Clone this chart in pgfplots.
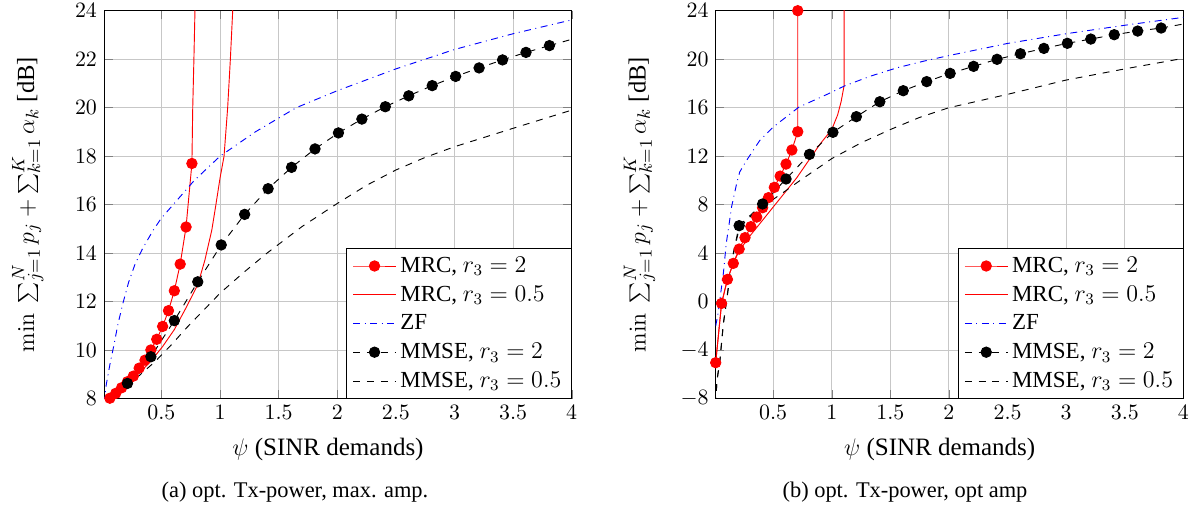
\documentclass[border=0pt]{standalone}
\usepackage[no-math]{fontspec}
\setmainfont{Liberation Serif}
\usepackage{pgfplots}
\pgfplotsset{compat=1.18}

\pgfplotsset{
  sinrax/.style={
    scale only axis, width=233.85pt, height=194pt,
    anchor=south west,
    xmin=0.01, xmax=4,
    xtick={0.5,1,1.5,2,2.5,3,3.5,4},
    grid=major,
    major grid style={black!22, line width=0.5pt},
    every axis plot/.append style={line width=0.46pt},
    tick label style={font=\fontsize{11}{13}\selectfont},
    label style={font=\fontsize{11.5}{13}\selectfont},
    xlabel={$\psi$ (SINR demands)},
    ylabel={$\min\ \sum_{j=1}^{N} p_j + \sum_{k=1}^{K} \alpha_k$ [dB]},
    every axis x label/.style={at={(axis description cs:0.479,-0.132)}, anchor=center,
      font=\fontsize{12.5}{14}\selectfont},
    every axis y label/.style={at={(axis description cs:-0.163,0.5)}, rotate=90, anchor=center,
      font=\fontsize{12.3}{14}\selectfont},
    legend style={at={(1,0)}, anchor=south east, draw=black,
      font=\fontsize{11.5}{13}\selectfont, row sep=1.2pt},
    legend cell align=left,
    legend image code/.code={
      \draw[mark repeat=2,mark phase=2] plot coordinates {(0cm,0cm) (0.375cm,0cm) (0.75cm,0cm)};},
  },
  mrctwo/.style={red, mark=*, mark size=2.6pt},
  mrchalf/.style={red, no markers},
  zf/.style={blue, dash pattern=on 3.45pt off 2.3pt on 0.46pt off 2.3pt, no markers},
  mmsetwo/.style={black, dash pattern=on 3.45pt off 3.45pt, mark=*, mark size=2.6pt, mark options={solid}},
  mmsehalf/.style={black, dash pattern=on 3.45pt off 3.45pt, no markers},
  ext/.style={forget plot, no markers},
}

\begin{document}
\begin{tikzpicture}
\path[use as bounding box] (0pt,0pt) rectangle (600pt,256.5pt);

% (a) max. amp.
\begin{axis}[sinrax, at={(52pt,57.15pt)}, ymin=8, ymax=24, ytick={8,10,...,24}]
\addplot[mrctwo] coordinates {
 (0.06,8.02) (0.11,8.22) (0.16,8.45) (0.21,8.70) (0.26,8.93) (0.31,9.26)
 (0.36,9.59) (0.41,10.01) (0.46,10.45) (0.51,10.98) (0.56,11.63) (0.61,12.45)
 (0.66,13.55) (0.71,15.08) (0.76,17.70)};
\addlegendentry{MRC, $r_3 = 2$}
\addplot[red, ext] coordinates {(0.76,17.70) (0.767,20.0) (0.777,22.0) (0.786,24.0) (0.79,25.5)};
\addplot[mrchalf] coordinates {
 (0.01,7.6) (0.06,8.0) (0.11,8.2) (0.21,8.6) (0.31,9.05) (0.41,9.55) (0.51,10.15)
 (0.61,10.85) (0.71,11.75) (0.81,12.7) (0.87,13.7) (0.93,14.96) (0.963,15.95)
 (1.0,17.1) (1.034,18.0) (1.065,20.0) (1.088,22.0) (1.108,24.0) (1.115,25.0)};
\addlegendentry{MRC, $r_3 = 0.5$}
\addplot[zf] coordinates {
 (0.01,7.8) (0.03,8.6) (0.06,9.4) (0.09,10.1) (0.13,11.1) (0.175,12.0) (0.22,12.8)
 (0.275,13.55) (0.34,14.2) (0.43,14.95) (0.5,15.45) (0.6,16.0) (0.78,17.0) (1.0,18.0)
 (1.3,19.0) (1.65,20.0) (2.0,20.7) (2.5,21.6) (3.0,22.4) (3.5,23.05) (4.0,23.62)};
\addlegendentry{ZF}
\addplot[mmsetwo] coordinates {
 (0.21,8.63) (0.41,9.73) (0.61,11.22) (0.81,12.82) (1.01,14.34) (1.21,15.60)
 (1.41,16.66) (1.61,17.54) (1.81,18.30) (2.01,18.96) (2.21,19.53) (2.41,20.04)
 (2.61,20.49) (2.81,20.91) (3.01,21.29) (3.21,21.64) (3.41,21.97) (3.61,22.28) (3.81,22.56)};
\addlegendentry{MMSE, $r_3 = 2$}
\addplot[mmsehalf, ext] coordinates {(0.01,7.8) (0.11,8.2) (0.21,8.63)};
\addplot[mmsehalf, ext] coordinates {(3.81,22.56) (4.0,22.82)};
\addplot[mmsehalf] coordinates {
 (0.01,7.8) (0.11,8.15) (0.21,8.55) (0.31,8.95) (0.45,9.55) (0.6,10.3) (0.7,10.85)
 (0.85,11.6) (1.0,12.35) (1.2,13.2) (1.4,14.0) (1.7,15.1) (2.0,16.05) (2.25,16.8)
 (2.5,17.43) (2.75,17.95) (3.0,18.39) (3.5,19.15) (4.0,19.9)};
\addlegendentry{MMSE, $r_3 = 0.5$}
\end{axis}

% (b) opt. amp
\begin{axis}[sinrax, at={(357.85pt,57.15pt)}, ymin=-8, ymax=24, ytick={-8,-4,...,24}]
\addplot[mrctwo] coordinates {
 (0.01,-5.03) (0.06,-0.14) (0.11,1.84) (0.16,3.16) (0.21,4.34) (0.26,5.28)
 (0.31,6.19) (0.36,6.98) (0.41,7.75) (0.46,8.58) (0.51,9.43) (0.56,10.36)
 (0.61,11.35) (0.66,12.51) (0.71,14.02) (0.71,24.0)};
\addlegendentry{MRC, $r_3 = 2$}
\addplot[mrchalf] coordinates {
 (0.01,-5.03) (0.06,-0.14) (0.11,1.84) (0.16,3.16) (0.21,4.2) (0.3,5.4) (0.4,6.6)
 (0.5,7.8) (0.6,9.0) (0.7,10.2) (0.8,11.6) (0.9,13.0) (1.0,14.2) (1.05,15.4)
 (1.08,16.5) (1.105,17.8) (1.105,26.0)};
\addlegendentry{MRC, $r_3 = 0.5$}
\addplot[zf] coordinates {
 (0.01,-2.0) (0.03,-1.0) (0.05,0.5) (0.075,2.3) (0.1,4.8) (0.147,7.9) (0.19,9.8)
 (0.215,10.7) (0.27,11.6) (0.386,13.3) (0.5,14.4) (0.56,14.85) (0.72,16.05)
 (0.96,17.1) (1.11,17.8) (1.33,18.6) (1.56,19.3) (1.79,19.85) (2.0,20.3)
 (2.5,21.3) (3.0,22.1) (3.5,22.8) (4.0,23.45)};
\addlegendentry{ZF}
\addplot[mmsetwo] coordinates {
 (0.21,6.27) (0.41,8.06) (0.61,10.12) (0.81,12.15) (1.01,13.97) (1.21,15.26)
 (1.41,16.49) (1.61,17.40) (1.81,18.15) (2.01,18.83) (2.21,19.41) (2.41,19.99)
 (2.61,20.45) (2.81,20.89) (3.01,21.31) (3.21,21.66) (3.41,22.02) (3.61,22.32) (3.81,22.57)};
\addlegendentry{MMSE, $r_3 = 2$}
\addplot[mmsehalf, ext] coordinates {
 (0.01,-8.5) (0.02,-6.5) (0.046,-4.8) (0.075,-1.8) (0.118,1.24) (0.16,4.0) (0.21,6.27)};
\addplot[mmsehalf, ext] coordinates {(3.81,22.57) (4.0,22.9)};
\addplot[mmsehalf] coordinates {
 (0.01,-8.5) (0.02,-6.6) (0.046,-4.9) (0.075,-1.9) (0.118,1.1) (0.16,3.9) (0.2,5.6)
 (0.26,6.6) (0.35,7.4) (0.45,8.1) (0.6,9.1) (0.73,10.0) (1.0,11.8) (1.25,13.1)
 (1.5,14.2) (1.75,15.2) (2.0,16.0) (2.5,17.1) (3.0,18.28) (3.5,19.2) (4.0,20.07)};
\addlegendentry{MMSE, $r_3 = 0.5$}
\end{axis}

\node[font=\fontsize{11.2}{13}\selectfont] at (147.5pt,10.5pt) {(a) opt. Tx-power, max. amp.};
\node[font=\fontsize{11.2}{13}\selectfont] at (452.5pt,10.5pt) {(b) opt. Tx-power, opt amp};
\end{tikzpicture}
\end{document}
